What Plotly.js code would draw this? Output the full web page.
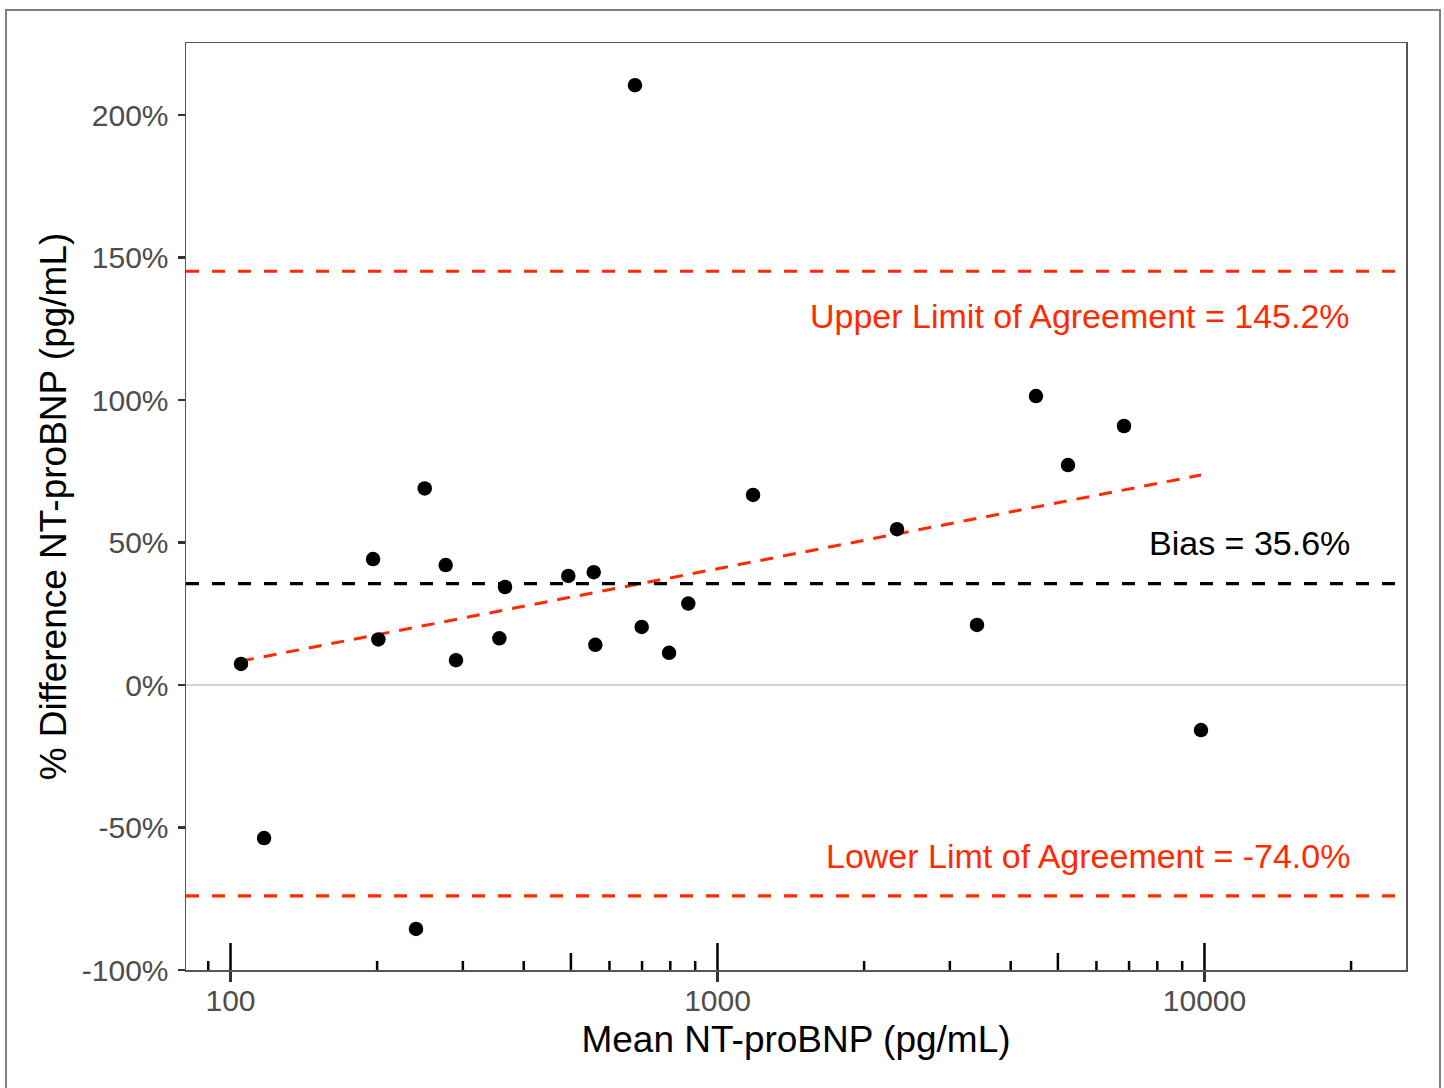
<!DOCTYPE html>
<html>
<head>
<meta charset="utf-8">
<script src="https://cdn.plot.ly/plotly-3.0.1.min.js"></script>
<style>
  html, body { margin: 0; padding: 0; background: #fff; }
  #wrap { position: relative; width: 1444px; height: 1088px; overflow: hidden; }
  #chart { position: absolute; left: 0; top: 0; width: 1444px; height: 1088px; }
  #frame { position: absolute; left: 5px; top: 9px; width: 1432px; height: 1100px;
           border: 2px solid #808080; pointer-events: none; }
</style>
</head>
<body>
<div id="wrap">
  <div id="chart"></div>
  <div id="frame"></div>
</div>
<script>
// Mean NT-proBNP (pg/mL) and % difference for each sample
const meanValues = [105.1, 117.2, 196.2, 201.2, 240.4, 250.5, 276.6, 290.4, 356.5, 366.2,
                    493.9, 557.0, 561.2, 676.9, 698.7, 795.3, 871.0, 1183, 2337, 3411,
                    4508, 5245, 6835, 9836];
const pctDiff = [7.4, -53.7, 44.2, 16.0, -85.6, 69.0, 42.1, 8.7, 16.4, 34.4,
                 38.3, 39.6, 14.1, 210.5, 20.4, 11.3, 28.6, 66.7, 54.7, 21.1,
                 101.4, 77.2, 90.9, -15.8];

// Trend line
const fitX = [105.1, 9836];
const fitY = [8.4, 73.7];

// Limits of agreement
const bias = 35.6;
const upperLoA = 145.2;
const lowerLoA = -74.0;

const yTicks = [-100, -50, 0, 50, 100, 150, 200];
const xTicks = [100, 1000, 10000];
const logTickLong = [100, 1000, 10000];
const logTickMid = [5000, 500];
const logTickShort = [90, 200, 300, 400, 600, 700, 800, 900,
                      2000, 3000, 4000, 6000, 7000, 8000, 9000, 20000];

const red = '#ff2a00';
const font = 'Liberation Sans, Arial, Helvetica, sans-serif';

const traces = [
  {
    x: fitX, y: fitY, type: 'scatter', mode: 'lines',
    line: { color: red, width: 3, dash: '13px,10px' },
    hoverinfo: 'skip', showlegend: false
  },
  {
    x: meanValues, y: pctDiff, type: 'scatter', mode: 'markers',
    marker: { color: '#000', size: 14.5 },
    showlegend: false
  }
];

function hline(y, color) {
  return { type: 'line', xref: 'paper', yref: 'y', x0: 0, x1: 1, y0: y, y1: y,
           line: { color: color, width: 3.2, dash: '13px,13px' }, layer: 'above' };
}
function logTick(x, len) {
  return { type: 'line', xref: 'x', yref: 'paper', ysizemode: 'pixel', yanchor: 0,
           x0: x, x1: x, y0: 0, y1: len, line: { color: '#000', width: 2.5 }, layer: 'above' };
}

const shapes = [
  hline(upperLoA, red),
  hline(bias, '#000'),
  hline(lowerLoA, red)
];
logTickLong.forEach(v => shapes.push(logTick(v, 27)));
logTickMid.forEach(v => shapes.push(logTick(v, 17)));
logTickShort.forEach(v => shapes.push(logTick(v, 9)));

const annotations = [
  { text: 'Upper Limit of Agreement = ' + upperLoA.toFixed(1) + '%', xref: 'paper', yref: 'y',
    x: 0.9557, y: 129.5, xanchor: 'right', yanchor: 'middle', showarrow: false,
    font: { family: font, size: 34, color: red } },
  { text: 'Bias = ' + bias.toFixed(1) + '%', xref: 'paper', yref: 'y',
    x: 0.9557, y: 49.8, xanchor: 'right', yanchor: 'middle', showarrow: false,
    font: { family: font, size: 34, color: '#000' } },
  { text: 'Lower Limt of Agreement = ' + lowerLoA.toFixed(1) + '%', xref: 'paper', yref: 'y',
    x: 0.9557, y: -60.0, xanchor: 'right', yanchor: 'middle', showarrow: false,
    font: { family: font, size: 34, color: red } }
];

const layout = {
  width: 1444, height: 1088,
  margin: { l: 186, r: 38, t: 43, b: 118, pad: 0 },
  paper_bgcolor: 'rgba(0,0,0,0)', plot_bgcolor: '#fff',
  font: { family: font },
  xaxis: {
    type: 'log', range: [1.9086, 4.4138],
    tickvals: xTicks, ticktext: xTicks.map(String),
    ticks: 'outside', ticklen: 10, tickwidth: 2.5, tickcolor: '#333',
    ticklabelstandoff: -7,
    tickfont: { family: font, size: 30, color: '#4d4d4d' },
    showgrid: false, zeroline: false,
    showline: true, mirror: true, linecolor: '#555', linewidth: 1.5,
    title: { text: 'Mean NT-proBNP (pg/mL)', font: { family: font, size: 37, color: '#000' }, standoff: 10 }
  },
  yaxis: {
    range: [-100, 225.3],
    tickvals: yTicks, ticktext: yTicks.map(v => v + '%'),
    ticks: 'outside', ticklen: 7, tickwidth: 2.5, tickcolor: '#333',
    ticklabelstandoff: 3,
    tickfont: { family: font, size: 30, color: '#4d4d4d' },
    showgrid: false,
    zeroline: true, zerolinecolor: '#d3d3d3', zerolinewidth: 2.5,
    showline: true, mirror: true, linecolor: '#555', linewidth: 1.5,
    title: { text: '% Difference NT-proBNP (pg/mL)', font: { family: font, size: 37, color: '#000' }, standoff: 4 }
  },
  shapes: shapes,
  annotations: annotations
};

Plotly.newPlot('chart', traces, layout, { staticPlot: true, displayModeBar: false });
</script>
</body>
</html>
